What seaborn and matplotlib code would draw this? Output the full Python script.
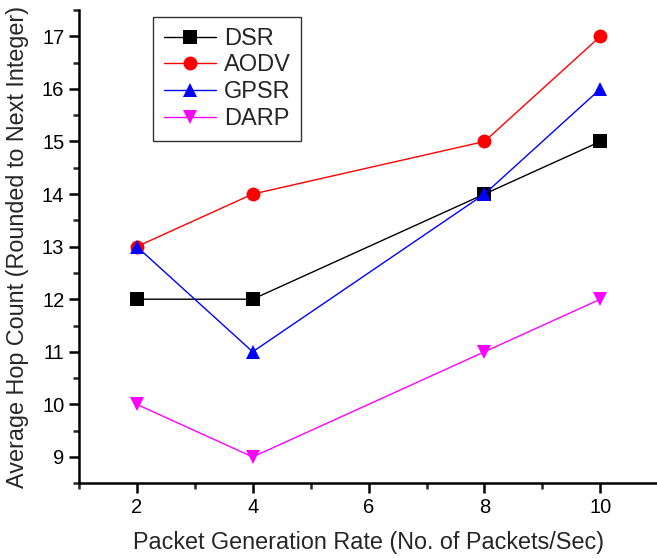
import matplotlib
matplotlib.use("Agg")
import matplotlib.pyplot as plt
from matplotlib.ticker import MultipleLocator
import seaborn as sns
import pandas as pd

rates = [2, 4, 8, 10]
dsr = [12, 12, 14, 15]
aodv = [13, 14, 15, 17]
gpsr = [13, 11, 14, 16]
darp = [10, 9, 11, 12]

protocols = ["DSR", "AODV", "GPSR", "DARP"]
colors = ["black", "red", "blue", "magenta"]
markers = ["s", "o", "^", "v"]

df = pd.DataFrame({
    "rate": rates * 4,
    "hops": dsr + aodv + gpsr + darp,
    "protocol": [p for p in protocols for _ in rates],
})

sns.set_style("ticks")
plt.rcParams["font.family"] = ["Liberation Sans", "DejaVu Sans"]

fig = plt.figure(figsize=(6.57, 5.58), dpi=100)
ax = fig.add_axes([0.120, 0.134, 0.882, 0.848])

sns.lineplot(data=df, x="rate", y="hops", hue="protocol", style="protocol",
             hue_order=protocols, style_order=protocols,
             palette=colors, markers=markers, dashes=False,
             markersize=10, markeredgewidth=0, linewidth=1.0, ax=ax)

ax.set_xlim(1, 11)
ax.set_ylim(8.5, 17.5)
ax.set_xticks([2, 4, 6, 8, 10])
ax.set_yticks(range(9, 18))
ax.xaxis.set_minor_locator(MultipleLocator(1))
ax.yaxis.set_minor_locator(MultipleLocator(0.5))
ax.tick_params(which="major", direction="out", length=7, width=1.8, labelsize=14.5, colors="black")
ax.tick_params(which="minor", direction="out", length=4, width=1.8)
for s in ["top", "right"]:
    ax.spines[s].set_visible(False)
for s in ["left", "bottom"]:
    ax.spines[s].set_linewidth(1.8)
    ax.spines[s].set_color("black")

ax.set_xlabel("Packet Generation Rate (No. of Packets/Sec)", fontsize=16.8, labelpad=10)
ax.set_ylabel("Average Hop Count (Rounded to Next Integer)", fontsize=16.8, labelpad=9)

leg = ax.legend(loc="upper left", bbox_to_anchor=(0.128, 0.985), fontsize=17,
                frameon=True, fancybox=False, handlelength=2.2,
                borderpad=0.45, labelspacing=0.2, handletextpad=0.35,
                borderaxespad=0)
leg.get_frame().set_edgecolor("black")
leg.get_frame().set_linewidth(1.0)

fig.savefig("out.png", dpi=100)
